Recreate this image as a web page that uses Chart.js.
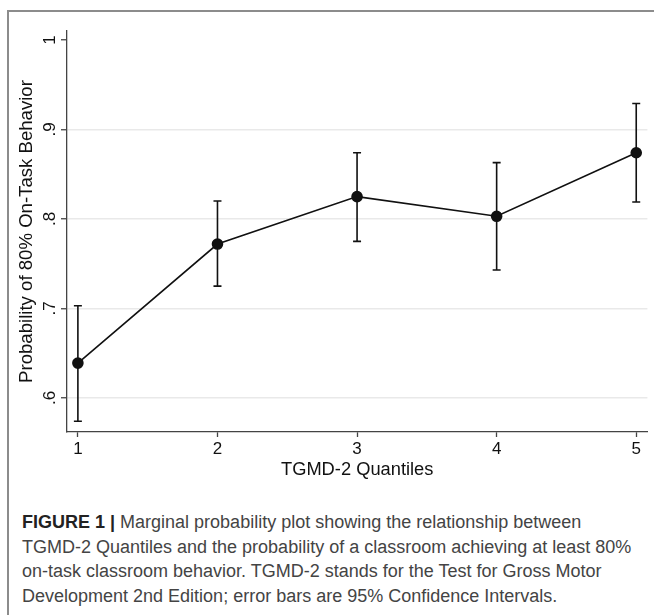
<!DOCTYPE html>
<html>
<head>
<meta charset="utf-8">
<script src="https://cdn.jsdelivr.net/npm/chart.js@4"></script>
<style>
  html, body { margin: 0; padding: 0; background: #fff; overflow: hidden; }
  body { width: 654px; height: 615px; position: relative; }
  #frame {
    position: absolute; left: 7px; top: 10px; width: 760px; height: 720px;
    border-left: 2px solid #8c8c8c; border-top: 2px solid #8c8c8c;
  }
  #plot { position: absolute; left: 0; top: 0; }
  #caption {
    position: absolute; left: 22px; top: 510px; white-space: nowrap;
    font: 18px "Liberation Sans", Arial, sans-serif; line-height: 24.6px;
    color: #444;
  }
  #caption b { color: #222; }
</style>
</head>
<body>
<div id="frame"></div>
<canvas id="plot" width="654" height="490"></canvas>
<div id="caption">
  <b>FIGURE 1 |</b> Marginal probability plot showing the relationship between<br>
  TGMD-2 Quantiles and the probability of a classroom achieving at least 80%<br>
  on-task classroom behavior. TGMD-2 stands for the Test for Gross Motor<br>
  Development 2nd Edition; error bars are 95% Confidence Intervals.
</div>
<script>
/* Marginal probability by TGMD-2 quantile, with 95% CI whiskers. */

const quantiles = [1, 2, 3, 4, 5];
const probability = [0.639, 0.772, 0.825, 0.803, 0.874];
const ciLower = [0.574, 0.725, 0.775, 0.743, 0.819];
const ciUpper = [0.703, 0.820, 0.874, 0.863, 0.929];
const yTicks = [0.6, 0.7, 0.8, 0.9, 1];

const INK = "#111";
const AXIS = "#444";
const FONT = '"Liberation Sans", Arial, sans-serif';

function yLabel(v) {
  return v >= 1 ? "1" : "." + Math.round(v * 10);
}

// whiskers go under the points, so draw before datasets
const errorBars = {
  id: "errorBars",
  beforeDatasetsDraw(chart) {
    const { ctx, scales: { x, y } } = chart;
    ctx.save();
    ctx.strokeStyle = INK;
    ctx.lineWidth = 1.6;
    for (let i = 0; i < quantiles.length; i++) {
      const px = x.getPixelForValue(quantiles[i]);
      const lo = y.getPixelForValue(ciLower[i]);
      const hi = y.getPixelForValue(ciUpper[i]);
      ctx.beginPath();
      ctx.moveTo(px, lo); ctx.lineTo(px, hi);
      ctx.moveTo(px - 4, lo); ctx.lineTo(px + 4, lo);
      ctx.moveTo(px - 4, hi); ctx.lineTo(px + 4, hi);
      ctx.stroke();
    }
    ctx.restore();
  },
};

new Chart(document.getElementById("plot"), {
  type: "line",
  data: {
    datasets: [{
      data: quantiles.map((q, i) => ({ x: q, y: probability[i] })),
      borderColor: INK,
      borderWidth: 1.6,
      pointRadius: 5,
      pointBackgroundColor: INK,
      pointBorderColor: INK,
      tension: 0,
    }],
  },
  plugins: [errorBars],
  options: {
    responsive: false,
    animation: false,
    layout: { padding: { left: 0, top: 31, right: 2, bottom: 0 } },
    plugins: { legend: { display: false }, tooltip: { enabled: false } },
    scales: {
      x: {
        type: "linear",
        min: 0.922,
        max: 5.08,
        afterBuildTicks: (s) => { s.ticks = quantiles.map((v) => ({ value: v })); },
        afterFit: (s) => { s.height = 58; },
        border: { color: AXIS, width: 1.3 },
        grid: { drawOnChartArea: false, tickLength: 5, tickColor: AXIS, tickWidth: 1.3 },
        ticks: { color: "#111", font: { family: FONT, size: 17 }, padding: 2 },
        title: {
          display: true, text: "TGMD-2 Quantiles", color: "#111",
          font: { family: FONT, size: 18.3 }, padding: { top: 0, bottom: 9 },
        },
      },
      y: {
        min: 0.562,
        max: 1.01,
        afterBuildTicks: (s) => { s.ticks = yTicks.map((v) => ({ value: v })); },
        afterFit: (s) => { s.width = 67; },
        border: { color: AXIS, width: 1.3 },
        grid: {
          color: (c) => (c.tick && c.tick.value >= 1 ? "rgba(0,0,0,0)" : "#e9e9e9"),
          lineWidth: 1.5,
          tickLength: 6, tickColor: AXIS, tickWidth: 1.3,
        },
        ticks: {
          color: "#111", font: { family: FONT, size: 17 },
          minRotation: 90, maxRotation: 90, crossAlign: "center", padding: 4,
          callback: (v) => yLabel(v),
        },
        title: {
          display: true, text: "Probability of 80% On-Task Behavior", color: "#111",
          font: { family: FONT, size: 18.6 }, padding: { top: 16, bottom: 0 },
        },
      },
    },
  },
});
</script>
</body>
</html>
